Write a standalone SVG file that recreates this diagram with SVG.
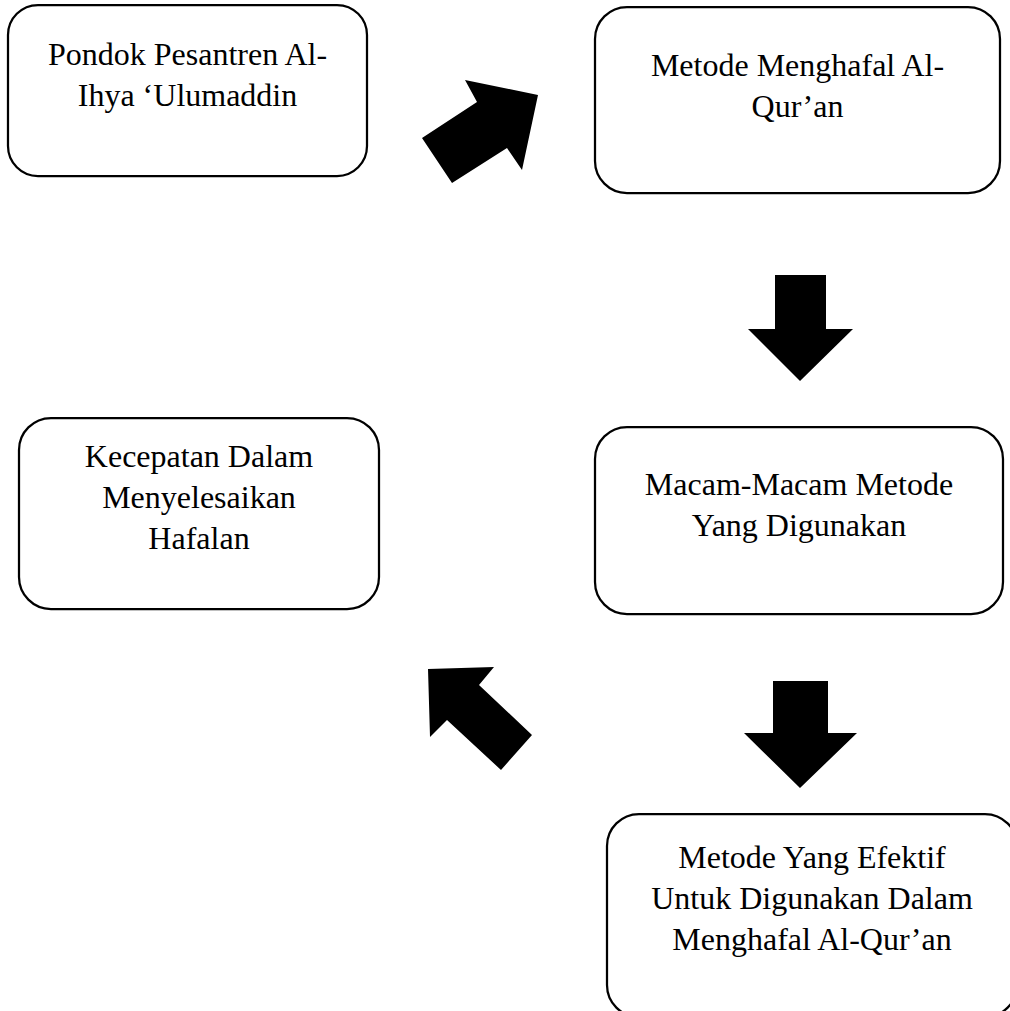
<svg xmlns="http://www.w3.org/2000/svg" width="1010" height="1011" viewBox="0 0 1010 1011">
<style>
.box{fill:#fff;stroke:#000;stroke-width:2.25}
.lbl{font-family:"Liberation Serif","Times New Roman",serif;font-size:32px;fill:#000;text-anchor:middle}
.arr{fill:#000;stroke:none}
</style>
<rect width="1010" height="1011" fill="#fff"/>
<g id="node-pondok">
<rect class="box" x="8" y="5" width="359" height="171" rx="30" ry="30"/>
<text class="lbl" x="187.5" y="65">Pondok Pesantren Al-</text>
<text class="lbl" x="187.5" y="106">Ihya ‘Ulumaddin</text>
</g>
<g id="node-metode">
<rect class="box" x="595" y="7" width="405" height="186" rx="32" ry="32"/>
<text class="lbl" x="797.5" y="76">Metode Menghafal Al-</text>
<text class="lbl" x="797.5" y="117">Qur’an</text>
</g>
<g id="node-macam">
<rect class="box" x="595" y="427" width="408" height="187" rx="32" ry="32"/>
<text class="lbl" x="799" y="495">Macam-Macam Metode</text>
<text class="lbl" x="799" y="536">Yang Digunakan</text>
</g>
<g id="node-kecepatan">
<rect class="box" x="19" y="418" width="360" height="191" rx="32" ry="32"/>
<text class="lbl" x="199" y="467">Kecepatan Dalam</text>
<text class="lbl" x="199" y="508">Menyelesaikan</text>
<text class="lbl" x="199" y="549">Hafalan</text>
</g>
<g id="node-efektif">
<rect class="box" x="607" y="814" width="410" height="203" rx="32" ry="32"/>
<text class="lbl" x="812" y="868">Metode Yang Efektif</text>
<text class="lbl" x="812" y="909">Untuk Digunakan Dalam</text>
<text class="lbl" x="812" y="950">Menghafal Al-Qur’an</text>
</g>
<g id="connectors">
<polygon class="arr" points="465,80 538,95 522,170 507,148 452,183 422,138 477,102"/>
<polygon class="arr" points="775,275 826,275 826,329 853,329 800,381 748,329 775,329"/>
<polygon class="arr" points="773,681 828,681 828,733 857,733 800,788 744,733 773,733"/>
<polygon class="arr" points="428,669 494,667 479,685 532,735 501,770 447,720 430,737"/>
</g>
</svg>
